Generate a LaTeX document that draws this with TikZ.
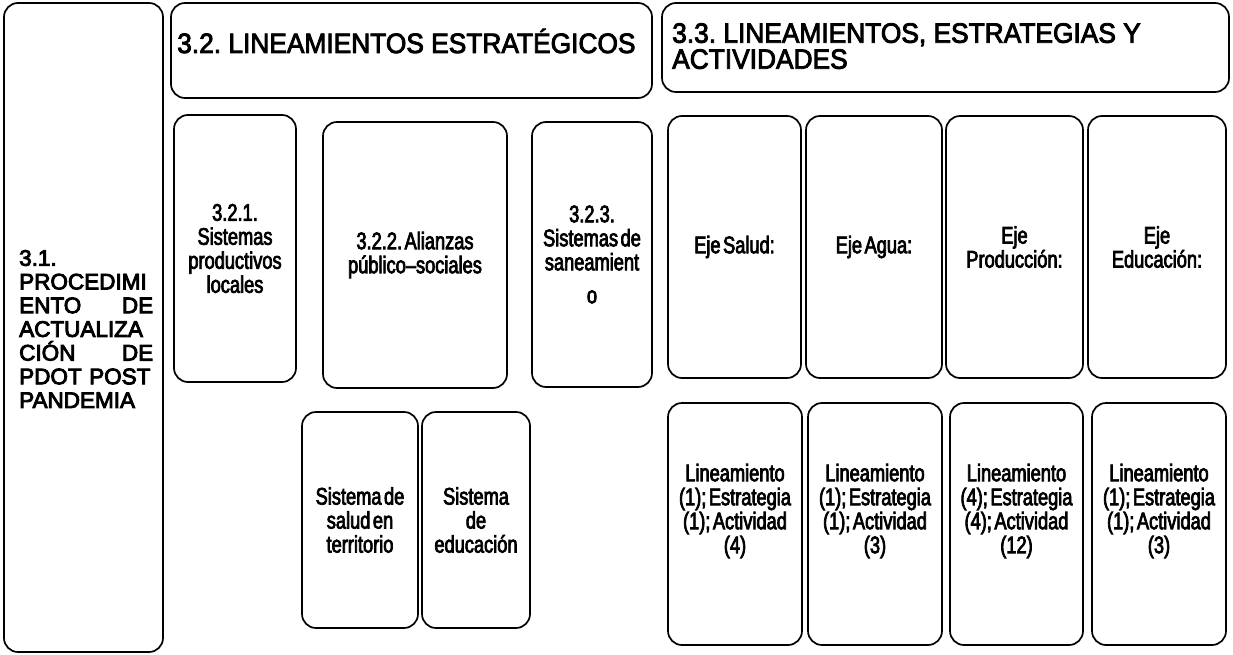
\documentclass[tikz,border=0pt]{standalone}
\usepackage{fontspec}
\setmainfont{Liberation Sans}
\newfontfamily\procfont[FakeBold=4]{Liberation Sans}
\newfontfamily\narrowfont[FakeStretch=0.76,FakeBold=3,WordSpace=0.5]{Liberation Sans}
\newfontfamily\headfont[FakeStretch=0.94,FakeBold=3]{Liberation Sans}
\frenchspacing
\begin{document}
\begin{tikzpicture}[x=1pt,y=-1pt,
  box/.style={draw=black, line width=1.7pt, rounded corners=14pt, inner sep=0pt},
  bodytxt/.style={font=\narrowfont\fontsize{24}{24}\selectfont, align=center, inner sep=0pt},
  headtxt/.style={font=\headfont\fontsize{28}{26}\selectfont, align=left, inner sep=0pt},
  proctxt/.style={font=\procfont\fontsize{22.5}{23.7}\selectfont, align=left, text width=134pt, inner sep=0pt}]
\useasboundingbox[fill=white] (0,0) rectangle (1233,655);
% boxes
\node[box, minimum width=159pt, minimum height=649pt] (p31) at (83.5,327.5) {};
\node[box, minimum width=481pt, minimum height=95pt] (h32) at (411.5,50.5) {};
\node[box, minimum width=567pt, minimum height=89pt] (h33) at (945.5,47.5) {};
\node[box, minimum width=122pt, minimum height=267pt] (b321) at (235,248.5) {};
\node[box, minimum width=184pt, minimum height=266pt] (b322) at (415,255) {};
\node[box, minimum width=120pt, minimum height=265pt] (b323) at (592,254.5) {};
\node[box, minimum width=116pt, minimum height=216pt] (bsal) at (360,520) {};
\node[box, minimum width=108pt, minimum height=216pt] (bedu) at (476,520) {};
\node[box, minimum width=133pt, minimum height=262pt] (e1) at (734.5,247) {};
\node[box, minimum width=136pt, minimum height=262pt] (e2) at (874,247) {};
\node[box, minimum width=137pt, minimum height=262pt] (e3) at (1014.5,247) {};
\node[box, minimum width=138pt, minimum height=262pt] (e4) at (1157,247) {};
\node[box, minimum width=134pt, minimum height=242pt] (l1) at (735,524) {};
\node[box, minimum width=134pt, minimum height=242pt] (l2) at (875,524) {};
\node[box, minimum width=133pt, minimum height=242pt] (l3) at (1016.5,524) {};
\node[box, minimum width=134pt, minimum height=242pt] (l4) at (1159,524) {};
% texts
\node[proctxt, anchor=west] (t31) at (19,329) {3.1.\\PROCEDIMI\\ENTO\hfill DE\\ACTUALIZA\\CIÓN\hfill DE\\PDOT POST\\PANDEMIA};
\node[headtxt, anchor=base west] (t32) at (177,53) {3.2. LINEAMIENTOS ESTRATÉGICOS};
\node[headtxt, anchor=north west] (t33) at (672,23) {3.3. LINEAMIENTOS, ESTRATEGIAS Y\\ACTIVIDADES};
\node[bodytxt] (t321) at (b321.center) {3.2.1.\\Sistemas\\productivos\\locales};
\node[bodytxt] (t322) at (b322.center) {3.2.2. Alianzas\\público–sociales};
\node[bodytxt] (t323) at (b323.center) {3.2.3.\\Sistemas de\\saneamient\\[9pt]o};
\node[bodytxt] (tsal) at (bsal.center) {Sistema de\\salud en\\territorio};
\node[bodytxt] (tedu) at (bedu.center) {Sistema\\de\\educación};
\node[bodytxt] (te1) at (e1.center) {Eje Salud:};
\node[bodytxt] (te2) at (e2.center) {Eje Agua:};
\node[bodytxt] (te3) at (e3.center) {Eje\\Producción:};
\node[bodytxt] (te4) at (e4.center) {Eje\\Educación:};
\node[bodytxt] (tl1) at ([yshift=13pt]l1.center) {Lineamiento\\(1); Estrategia\\(1); Actividad\\(4)};
\node[bodytxt] (tl2) at ([yshift=13pt]l2.center) {Lineamiento\\(1); Estrategia\\(1); Actividad\\(3)};
\node[bodytxt] (tl3) at ([yshift=13pt]l3.center) {Lineamiento\\(4); Estrategia\\(4); Actividad\\(12)};
\node[bodytxt] (tl4) at ([yshift=13pt]l4.center) {Lineamiento\\(1); Estrategia\\(1); Actividad\\(3)};
\end{tikzpicture}
\end{document}
